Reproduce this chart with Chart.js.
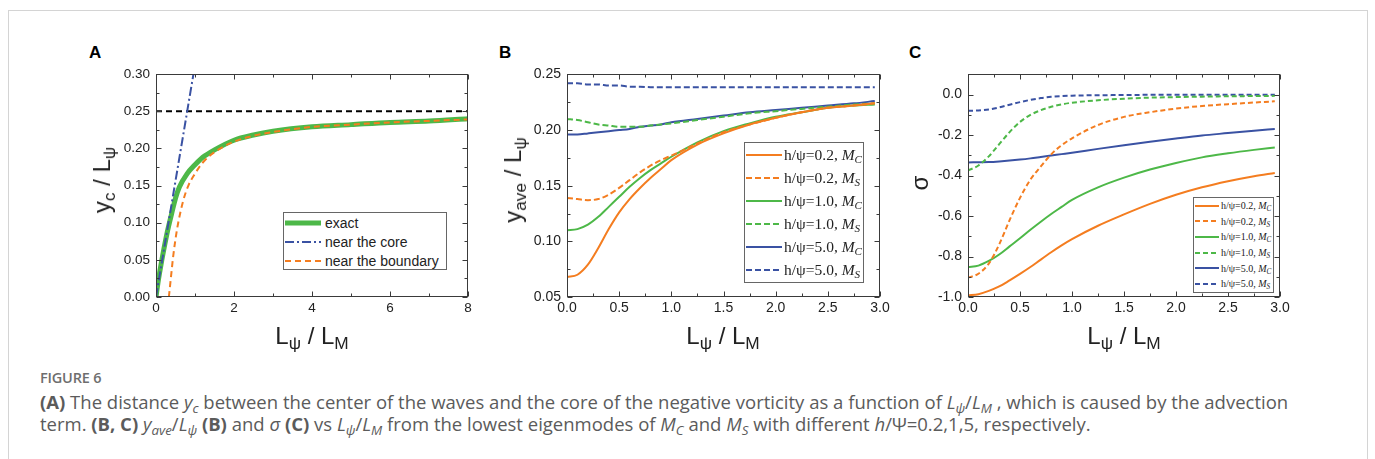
<!DOCTYPE html>
<html>
<head>
<meta charset="utf-8">
<script src="https://cdn.jsdelivr.net/npm/chart.js@4.4.1/dist/chart.umd.min.js"></script>
<style>
  html, body { margin: 0; padding: 0; background: #fff; }
  body { width: 1375px; height: 459px; overflow: hidden; position: relative; font-family: "Liberation Sans", Arial, sans-serif; color: #222; }
  #frame { position: absolute; left: 8px; top: 10px; width: 1358px; height: 470px; border: 1px solid #d4d4d4; }
  canvas { position: absolute; }
  .letter { position: absolute; font-weight: bold; font-size: 17px; color: #000; }
  .xtitle, .ytitle { position: absolute; font-size: 24px; white-space: nowrap; color: #222; font-weight: normal; }
  .xtitle { transform: translate(-50%, -50%); }
  .ytitle { transform: translate(-50%, -50%) rotate(-90deg); }
  sub { font-size: 72%; vertical-align: -0.3em; line-height: 0; }
  .legend { position: absolute; background: #fff; border: 1px solid #666; box-sizing: border-box; }
  .legend .row { display: flex; align-items: center; white-space: nowrap; }
  .legend svg { display: block; flex: none; }
  #legA { font-size: 14px; padding: 1px 0 0 1px; }
  #legA .row { height: 18.7px; }
  #legA svg { margin-right: 4px; }
  #legB, #legC { font-family: "Liberation Serif", "Times New Roman", serif; }
  #legB { font-size: 15.5px; padding: 1px 0 0 1px; }
  #legB .row { height: 22.9px; }
  #legB svg { margin-right: 2px; }
  #legC { font-size: 10px; padding: 0 0 0 1px; }
  #legC .row { height: 15.6px; }
  #legC svg { margin-right: 2px; }
  #caption { position: absolute; left: 40px; top: 368px; font-family: "Open Sans", "Noto Sans", sans-serif; color: #5b5b5b; white-space: nowrap; }
  #caption .fig { font-size: 14.5px; font-weight: 600; color: #6e6e6e; letter-spacing: -0.2px; }
  #caption .txt { font-size: 18.5px; line-height: 22px; margin-top: 4px; letter-spacing: 0; }
  #caption b { font-weight: 700; }
</style>
</head>
<body>
<div id="frame"></div>

<div class="letter" style="left:89px; top:43px;">A</div>
<div class="letter" style="left:499px; top:43px;">B</div>
<div class="letter" style="left:909px; top:43px;">C</div>

<canvas id="chartA" width="400" height="290" style="left:80px; top:60px;"></canvas>
<canvas id="chartB" width="410" height="290" style="left:490px; top:60px;"></canvas>
<canvas id="chartC" width="400" height="290" style="left:900px; top:60px;"></canvas>

<div class="ytitle" style="left:102px; top:180px;">y<sub>c</sub> / L<sub>ψ</sub></div>
<div class="xtitle" style="left:312px; top:336px;">L<sub>ψ</sub> / L<sub>M</sub></div>
<div class="ytitle" style="left:513px; top:180px;">y<sub>ave</sub> / L<sub>ψ</sub></div>
<div class="xtitle" style="left:723px; top:336px;">L<sub>ψ</sub> / L<sub>M</sub></div>
<div class="ytitle" style="left:920px; top:183px;">σ</div>
<div class="xtitle" style="left:1124px; top:336px;">L<sub>ψ</sub> / L<sub>M</sub></div>

<div class="legend" id="legA" style="left:283px; top:212px; width:164px; height:58px;"></div>
<div class="legend" id="legB" style="left:744px; top:142px; width:120px; height:141px;"></div>
<div class="legend" id="legC" style="left:1193px; top:197px; width:81px; height:96px;"></div>

<div id="caption">
  <div class="fig">FIGURE 6</div>
  <div class="txt"><b>(A)</b> The distance <i>y</i><sub><i>c</i></sub> between the center of the waves and the core of the negative vorticity as a function of <i>L</i><sub><i>ψ</i></sub>/<i>L</i><sub><i>M</i></sub> , which is caused by the advection<br>term. <b>(B, C)</b> <i>y</i><sub><i>ave</i></sub>/<i>L</i><sub><i>ψ</i></sub> <b>(B)</b> and <i>σ</i> <b>(C)</b> vs <i>L</i><sub><i>ψ</i></sub>/<i>L</i><sub><i>M</i></sub> from the lowest eigenmodes of <i>M</i><sub><i>C</i></sub> and <i>M</i><sub><i>S</i></sub> with different <i>h</i>/Ψ=0.2,1,5, respectively.</div>
</div>

<script>
// ===== Panel A : y_c / L_psi =====
const aExactX = [0, 0.05, 0.1, 0.15, 0.2, 0.3, 0.4, 0.5, 0.6, 0.8, 1.0, 1.2, 1.5, 2, 2.5, 3, 4, 5, 6, 7, 8];
const aExactY = [0, 0.019, 0.035, 0.05, 0.064, 0.09, 0.112, 0.133, 0.148, 0.166, 0.178, 0.188, 0.198, 0.211, 0.218, 0.223, 0.229, 0.232, 0.235, 0.237, 0.240];
const aCoreX = [0, 0.96];
const aCoreY = [0, 0.30];
const aBoundX = [0.33, 0.36, 0.4, 0.43, 0.5, 0.57, 0.7, 0.83, 1.0, 1.2, 1.5, 2, 2.5, 3, 4, 5, 6, 7, 8];
const aBoundY = [0, 0.015, 0.035, 0.05, 0.078, 0.10, 0.13, 0.15, 0.166, 0.181, 0.195, 0.209, 0.217, 0.222, 0.229, 0.232, 0.235, 0.237, 0.239];
const aLimitX = [0, 8];
const aLimitY = [0.25, 0.25];
const aLegend = ['exact', 'near the core', 'near the boundary'];

// ===== Panel B : y_ave / L_psi =====
const bX = [0, 0.1, 0.2, 0.3, 0.4, 0.5, 0.6, 0.7, 0.8, 0.9, 1.0, 1.25, 1.5, 1.75, 2.0, 2.25, 2.5, 2.75, 2.95];
const bOrangeC = [0.068, 0.070, 0.079, 0.094, 0.111, 0.126, 0.138, 0.148, 0.157, 0.165, 0.173, 0.187, 0.197, 0.205, 0.211, 0.216, 0.220, 0.222, 0.224];
const bOrangeS = [0.139, 0.138, 0.137, 0.138, 0.142, 0.148, 0.155, 0.162, 0.168, 0.173, 0.177, 0.188, 0.198, 0.205, 0.211, 0.216, 0.220, 0.222, 0.224];
const bGreenC  = [0.110, 0.111, 0.115, 0.122, 0.131, 0.140, 0.149, 0.157, 0.164, 0.170, 0.176, 0.189, 0.199, 0.206, 0.212, 0.216, 0.220, 0.222, 0.223];
const bGreenS  = [0.210, 0.209, 0.207, 0.205, 0.204, 0.203, 0.203, 0.203, 0.204, 0.205, 0.206, 0.209, 0.212, 0.215, 0.217, 0.219, 0.221, 0.223, 0.224];
const bBlueC   = [0.196, 0.196, 0.197, 0.198, 0.199, 0.200, 0.201, 0.203, 0.204, 0.205, 0.207, 0.210, 0.213, 0.216, 0.218, 0.220, 0.222, 0.224, 0.226];
const bBlueS   = [0.242, 0.242, 0.241, 0.241, 0.240, 0.240, 0.239, 0.239, 0.2385, 0.2385, 0.2385, 0.2385, 0.2385, 0.2385, 0.2385, 0.2385, 0.2385, 0.2385, 0.2385];

// ===== Panel C : sigma =====
const cX = [0, 0.1, 0.2, 0.3, 0.4, 0.5, 0.6, 0.7, 0.8, 0.9, 1.0, 1.25, 1.5, 1.75, 2.0, 2.25, 2.5, 2.75, 2.95];
const cOrangeC = [-0.992, -0.986, -0.970, -0.948, -0.918, -0.886, -0.852, -0.815, -0.779, -0.745, -0.714, -0.648, -0.592, -0.540, -0.495, -0.458, -0.428, -0.403, -0.387];
const cOrangeS = [-0.905, -0.885, -0.835, -0.74, -0.62, -0.51, -0.42, -0.355, -0.295, -0.25, -0.216, -0.15, -0.11, -0.087, -0.069, -0.056, -0.047, -0.039, -0.033];
const cGreenC  = [-0.853, -0.845, -0.822, -0.79, -0.75, -0.71, -0.668, -0.628, -0.59, -0.555, -0.52, -0.458, -0.41, -0.37, -0.338, -0.31, -0.29, -0.273, -0.261];
const cGreenS  = [-0.375, -0.35, -0.305, -0.245, -0.185, -0.135, -0.10, -0.077, -0.06, -0.048, -0.04, -0.028, -0.02, -0.015, -0.012, -0.01, -0.008, -0.007, -0.006];
const cBlueC   = [-0.335, -0.334, -0.333, -0.33, -0.326, -0.321, -0.315, -0.308, -0.301, -0.294, -0.287, -0.268, -0.25, -0.233, -0.217, -0.202, -0.19, -0.178, -0.17];
const cBlueS   = [-0.08, -0.078, -0.073, -0.063, -0.05, -0.037, -0.026, -0.017, -0.011, -0.007, -0.005, -0.003, -0.002, -0.001, -0.001, 0, 0, 0, 0];

const hRatios = ['0.2', '0.2', '1.0', '1.0', '5.0', '5.0'];
const modes = ['C', 'S', 'C', 'S', 'C', 'S'];

const ORANGE = '#f47d20', GREEN = '#4db848', BLUE = '#3a52a3';

const pts = (xs, ys) => xs.map((x, i) => ({ x, y: ys[i] }));

// frame + inward ticks on all 4 sides (majors from the scale, minors halfway)
const tickFrame = {
  id: 'tickFrame',
  afterDatasetsDraw(chart) {
    const { ctx, chartArea: a, scales: { x, y } } = chart;
    ctx.save();
    ctx.strokeStyle = '#3a3a3a';
    ctx.lineWidth = 1;
    const L = Math.round(a.left) + 0.5, R = Math.round(a.right) - 0.5;
    const T = Math.round(a.top) + 0.5, B = Math.round(a.bottom) - 0.5;
    ctx.strokeRect(L, T, R - L, B - T);

    const withMinor = (scale) => {
      const v = scale.ticks.map(t => t.value);
      const out = v.map(val => ({ val, len: 5 }));
      const step = v[1] - v[0];
      for (let k = -1; k < v.length; k++) {
        const m = (k < 0 ? v[0] - step : v[k]) + step / 2;
        if (m > scale.min + 1e-9 && m < scale.max - 1e-9) out.push({ val: m, len: 3 });
      }
      return out;
    };

    ctx.beginPath();
    withMinor(x).forEach(t => {
      const px = Math.round(x.getPixelForValue(t.val)) + 0.5;
      ctx.moveTo(px, B); ctx.lineTo(px, B - t.len);
      ctx.moveTo(px, T); ctx.lineTo(px, T + t.len);
    });
    withMinor(y).forEach(t => {
      const py = Math.round(y.getPixelForValue(t.val)) + 0.5;
      ctx.moveTo(L, py); ctx.lineTo(L + t.len, py);
      ctx.moveTo(R, py); ctx.lineTo(R - t.len, py);
    });
    ctx.stroke();
    ctx.restore();
  }
};

function line(label, xs, ys, color, width, dash) {
  return {
    label, data: pts(xs, ys), borderColor: color, backgroundColor: color,
    borderWidth: width, borderDash: dash || [], pointRadius: 0,
    cubicInterpolationMode: 'monotone', fill: false
  };
}

function makeChart(id, datasets, o) {
  return new Chart(document.getElementById(id), {
    type: 'line',
    data: { datasets },
    plugins: [tickFrame],
    options: {
      responsive: false,
      animation: false,
      layout: { padding: { top: 12, right: o.right, bottom: 0, left: 0 } },
      plugins: { legend: { display: false }, tooltip: { enabled: false } },
      scales: {
        x: {
          type: 'linear', min: o.xMin, max: o.xMax,
          grid: { display: false, drawTicks: false }, border: { display: false },
          ticks: {
            stepSize: o.xStep, autoSkip: false, maxRotation: 0, padding: 3,
            color: '#222', font: { family: '"Liberation Sans", Arial, sans-serif', size: o.tickSize },
            callback: v => v.toFixed(o.xDec)
          },
          afterFit: s => { s.height = 53; }
        },
        y: {
          type: 'linear', min: o.yMin, max: o.yMax,
          grid: { display: false, drawTicks: false }, border: { display: false },
          ticks: {
            stepSize: o.yStep, includeBounds: false, autoSkip: false, padding: 6,
            color: '#222', font: { family: '"Liberation Sans", Arial, sans-serif', size: o.tickSize },
            callback: v => Math.abs(v) < 1e-9 ? (0).toFixed(o.yDec) : v.toFixed(o.yDec)
          },
          afterFit: s => { s.width = o.yWidth; }
        }
      }
    }
  });
}

function buildLegend(elId, chart, idx, labels, sampleLen) {
  const el = document.getElementById(elId);
  el.innerHTML = idx.map((di, i) => {
    const d = chart.data.datasets[di];
    return `<div class="row"><svg width="${sampleLen}" height="8"><line x1="0" y1="4" x2="${sampleLen}" y2="4" stroke="${d.borderColor}" stroke-width="${d.borderWidth}" stroke-dasharray="${d.borderDash.join(' ')}"/></svg><span>${labels[i]}</span></div>`;
  }).join('');
}

// first dataset is drawn on top
const chartA = makeChart('chartA', [
  line('near the boundary', aBoundX, aBoundY, ORANGE, 2, [6, 4]),
  line('near the core', aCoreX, aCoreY, BLUE, 2, [9, 3, 2, 3]),
  line('exact', aExactX, aExactY, GREEN, 5),
  line('limit', aLimitX, aLimitY, '#000', 2, [6, 4])
], { right: 12, xMin: 0, xMax: 8, xStep: 2, xDec: 0, yMin: 0, yMax: 0.30, yStep: 0.05, yDec: 2, yWidth: 76, tickSize: 13.5 });
buildLegend('legA', chartA, [2, 1, 0], aLegend, 36);

const seriesLabels = hRatios.map((h, i) => `h/ψ=${h}, <i>M<sub>${modes[i]}</sub></i>`);
const plain = hRatios.map((h, i) => `h/ψ=${h}, M${modes[i]}`);

const chartB = makeChart('chartB', [
  line(plain[0], bX, bOrangeC, ORANGE, 2),
  line(plain[1], bX, bOrangeS, ORANGE, 2, [6, 3]),
  line(plain[2], bX, bGreenC, GREEN, 2),
  line(plain[3], bX, bGreenS, GREEN, 2, [6, 3]),
  line(plain[4], bX, bBlueC, BLUE, 2),
  line(plain[5], bX, bBlueS, BLUE, 2, [6, 3])
], { right: 20, xMin: 0, xMax: 3, xStep: 0.5, xDec: 1, yMin: 0.05, yMax: 0.25, yStep: 0.05, yDec: 2, yWidth: 77, tickSize: 14 });
buildLegend('legB', chartB, [0, 1, 2, 3, 4, 5], seriesLabels, 36);

const chartC = makeChart('chartC', [
  line(plain[0], cX, cOrangeC, ORANGE, 2),
  line(plain[1], cX, cOrangeS, ORANGE, 2, [5, 3]),
  line(plain[2], cX, cGreenC, GREEN, 2),
  line(plain[3], cX, cGreenS, GREEN, 2, [5, 3]),
  line(plain[4], cX, cBlueC, BLUE, 2),
  line(plain[5], cX, cBlueS, BLUE, 2, [5, 3])
], { right: 20, xMin: 0, xMax: 3, xStep: 0.5, xDec: 1, yMin: -1.0, yMax: 0.1, yStep: 0.2, yDec: 1, yWidth: 68, tickSize: 14 });
buildLegend('legC', chartC, [0, 1, 2, 3, 4, 5], seriesLabels, 24);
</script>
</body>
</html>
